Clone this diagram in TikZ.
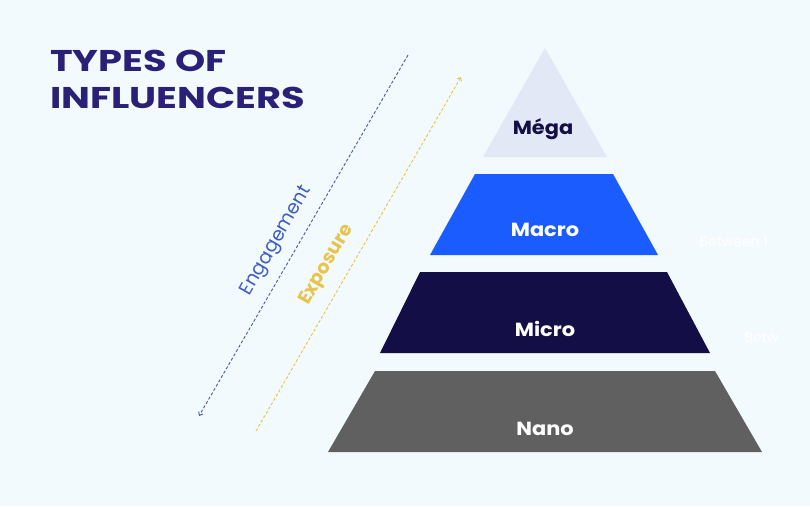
\documentclass[tikz,border=0pt]{standalone}
\usepackage{fontspec}
\setmainfont{Poppins}
\usetikzlibrary{arrows.meta}
\definecolor{bg}{HTML}{F3FAFE}
\definecolor{megac}{HTML}{E3E8F7}
\definecolor{macroc}{HTML}{1A5CFF}
\definecolor{microc}{HTML}{130E45}
\definecolor{nanoc}{HTML}{606060}
\definecolor{titlec}{HTML}{2A2078}
\definecolor{engc}{HTML}{4A5A9E}
\definecolor{engtxt}{HTML}{3F5CC4}
\definecolor{expc}{HTML}{E6C44E}
\tikzset{
  lvl/.style={font=\fontsize{19}{21}\selectfont\bfseries, xscale=1.1},
  diag/.style={font=\fontsize{19}{21}\selectfont, rotate=60},
  dline/.style={dashed, dash pattern=on 3pt off 2pt, line width=0.9pt},
  faint/.style={text=white, font=\fontsize{14}{16}\selectfont}
}
\begin{document}
\begin{tikzpicture}[x=1pt,y=-1pt]
\fill[bg] (0,0) rectangle (810,506);
\useasboundingbox (0,0) rectangle (810,506);
% title
\node[anchor=north west, inner sep=0pt, text=titlec, font=\fontsize{30}{37}\selectfont\bfseries, align=left, xscale=1.28] (title) at (50,50) {TYPES OF\\INFLUENCERS};
% pyramid
\fill[megac] (545,48) -- (607,157) -- (483,157) -- cycle;
\fill[macroc] (475,174) -- (613,174) -- (658,255) -- (430,255) -- cycle;
\fill[microc] (420,272) -- (667,272) -- (710,353) -- (380,353) -- cycle;
\fill[nanoc] (375,371) -- (715,371) -- (762,452) -- (328,452) -- cycle;
\node[lvl, text=microc] (mega) at (543,129) {Méga};
\node[lvl, text=white] (macro) at (545,230) {Macro};
\node[lvl, text=white] (micro) at (545,329) {Micro};
\node[lvl, text=white] (nano) at (545,429) {Nano};
% faint text
\node[faint, anchor=west] (b1) at (696,241) {Between 1};
\node[faint, anchor=west] (b2) at (741,338) {Betw};
% arrows
\coordinate (et) at (408,55);
\coordinate (eb) at (199,416);
\coordinate (xt) at (461,77);
\coordinate (xb) at (256,431);
\draw[dline, engc, -{Straight Barb[length=3pt,width=5pt]}] (et) -- (eb);
\draw[dline, expc, -{Straight Barb[length=3pt,width=5pt]}] (xb) -- (xt);
\node[diag, text=engtxt] (eng) at (277,241) {Engagement};
\node[diag, text=expc, font=\fontsize{19}{21}\selectfont\bfseries] (exp) at (327,265) {Exposure};
\end{tikzpicture}
\end{document}
